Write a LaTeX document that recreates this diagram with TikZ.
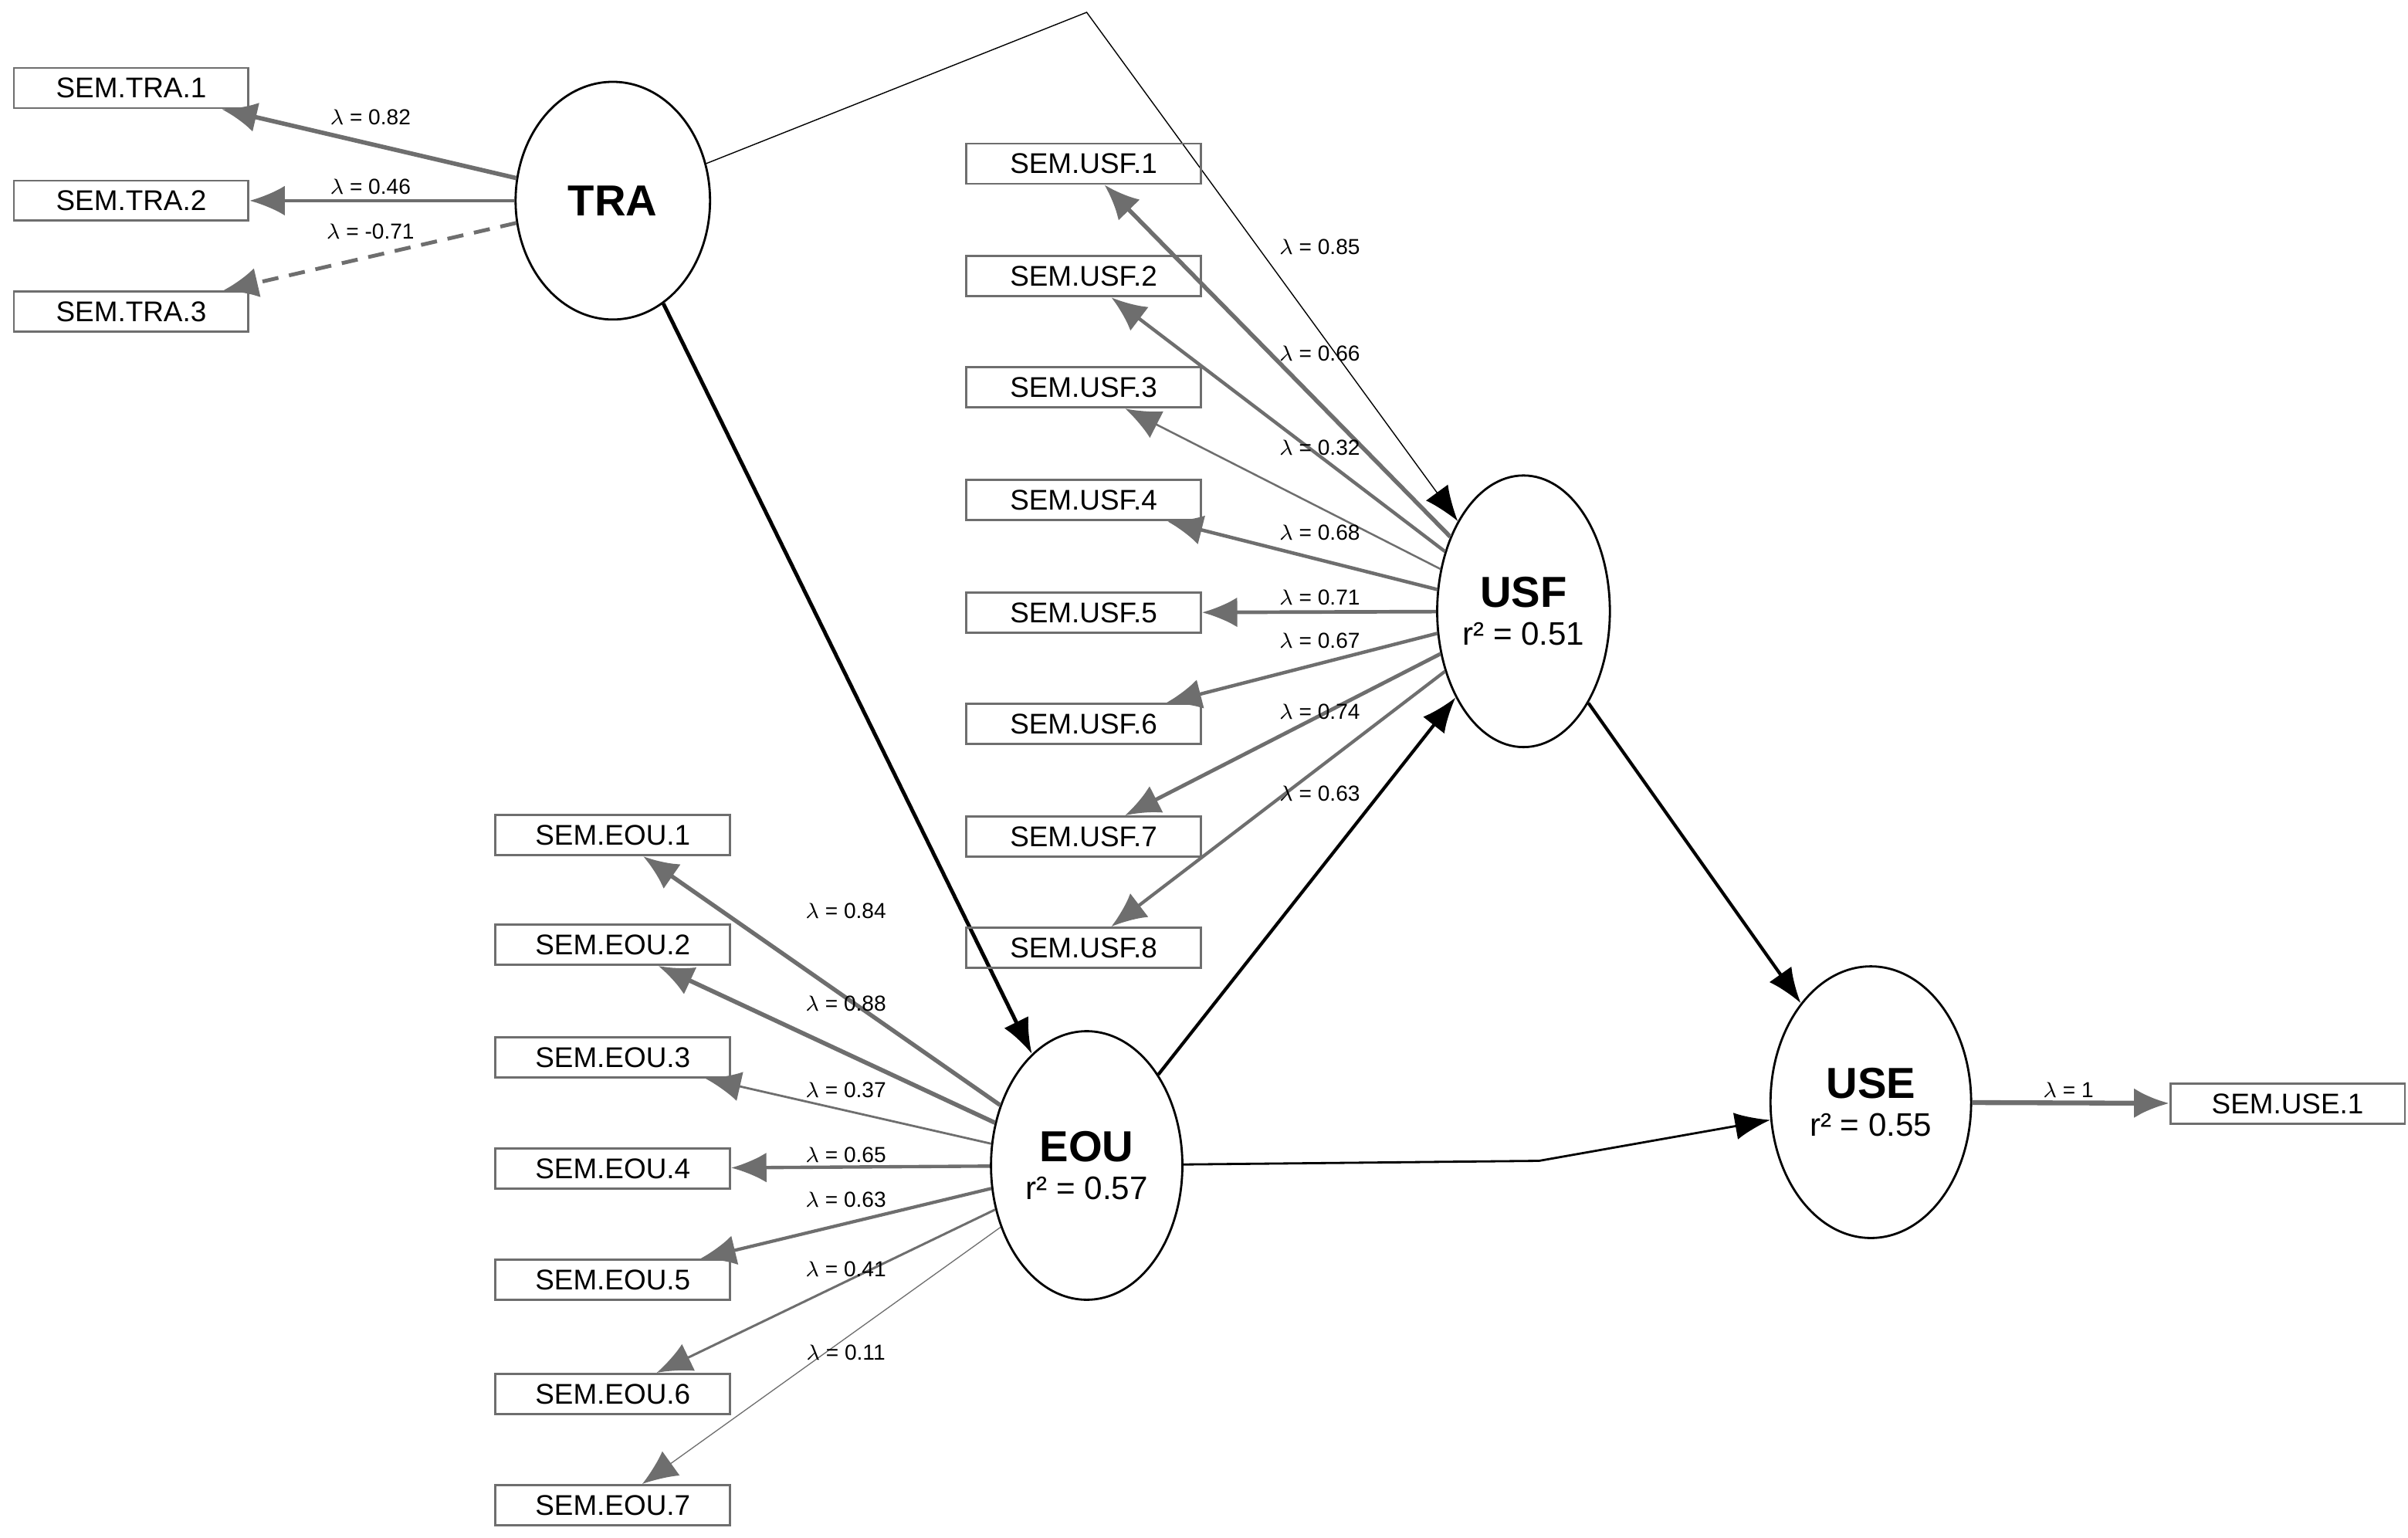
\documentclass[tikz,border=0pt]{standalone}
\usepackage{fontspec}
\setmainfont{Liberation Sans}
\usetikzlibrary{shapes.geometric,arrows.meta}
\definecolor{loadgray}{RGB}{110,110,110}
\begin{document}
\begin{tikzpicture}[x=0.02cm,y=-0.02cm,
  latent/.style={ellipse,draw,thick,inner sep=0pt,align=center},
  item/.style={draw=loadgray,thick,minimum width=3.04cm,minimum height=0.52cm,
    inner sep=0pt,font=\fontsize{10.5}{12}\selectfont},
  path/.style={thick,-{Latex[length=13pt,width=10pt]}},
  load/.style={draw=loadgray,-{Latex[length=13pt,width=11pt]},color=loadgray},
  lam/.style={font=\fontsize{8}{9}\selectfont}]

  \useasboundingbox (0,0) rectangle (1560,996);

  % latente Variablen
  \node[latent,minimum width=2.52cm,minimum height=3.08cm] (TRA) at (397,130)
       {\fontsize{16}{18}\selectfont\bfseries TRA};
  \node[latent,minimum width=2.1cm,minimum height=3.52cm] (USF) at (987,396)
       {{\fontsize{16}{18}\selectfont\bfseries USF}\\[2pt]{\fontsize{12}{14}\selectfont r² = 0.51}};
  \node[latent,minimum width=2.48cm,minimum height=3.48cm] (EOU) at (704,755)
       {{\fontsize{16}{18}\selectfont\bfseries EOU}\\[2pt]{\fontsize{12}{14}\selectfont r² = 0.57}};
  \node[latent,minimum width=2.6cm,minimum height=3.52cm] (USE) at (1212,714)
       {{\fontsize{16}{18}\selectfont\bfseries USE}\\[2pt]{\fontsize{12}{14}\selectfont r² = 0.55}};

  % Strukturpfade
  \coordinate (knickA) at (704,8);
  \coordinate (knickB) at (997,752);
  \draw[path,thin] (TRA) -- (knickA) -- (USF);
  \draw[path,line width=1.4pt] (TRA) -- (EOU);
  \draw[path,line width=1.2pt] (EOU) -- (USF);
  \draw[path,line width=1.2pt] (USF) -- (USE);
  \draw[path] (EOU) -- (knickB) -- (USE);

  % Indikatoren TRA
  \foreach \i/\l/\y/\ly in {1/0.82/57/76,2/0.46/130/121,3/-0.71/202/150}
  {
    \node[item] (tra\i) at (85,\y) {SEM.TRA.\i};
    \node[lam] at (240,\ly) {$\lambda$ = \l};
  }
  \draw[load,line width=1.6pt] (TRA) -- (tra1);
  \draw[load,line width=1.1pt] (TRA) -- (tra2);
  \draw[load,line width=1.4pt,dash pattern=on 6pt off 4pt] (TRA) -- (tra3);

  % Indikatoren USF
  \foreach \i/\l/\y/\ly in {1/0.85/106/160,2/0.66/179/229,3/0.32/251/290,
    4/0.68/324/345,5/0.71/397/387,6/0.67/469/415,7/0.74/542/461,8/0.63/614/514}
  {
    \pgfmathsetmacro\lw{0.2+1.6*abs(\l)}
    \node[item] (usf\i) at (702,\y) {SEM.USF.\i};
    \draw[load,line width=\lw pt] (USF) -- (usf\i);
    \node[lam] at (855,\ly) {$\lambda$ = \l};
  }

  % Indikatoren EOU
  \foreach \i/\l/\y/\ly in {1/0.84/541/590,2/0.88/612/650,3/0.37/685/706,
    4/0.65/757/748,5/0.63/829/777,6/0.41/903/822,7/0.11/975/876}
  {
    \pgfmathsetmacro\lw{0.2+1.6*abs(\l)}
    \node[item] (eou\i) at (397,\y) {SEM.EOU.\i};
    \draw[load,line width=\lw pt] (EOU) -- (eou\i);
    \node[lam] at (548,\ly) {$\lambda$ = \l};
  }

  % Indikator USE
  \node[item] (use1) at (1482,715) {SEM.USE.1};
  \draw[load,line width=1.8pt] (USE) -- (use1);
  \node[lam] at (1340,706) {$\lambda$ = 1};

\end{tikzpicture}
\end{document}
